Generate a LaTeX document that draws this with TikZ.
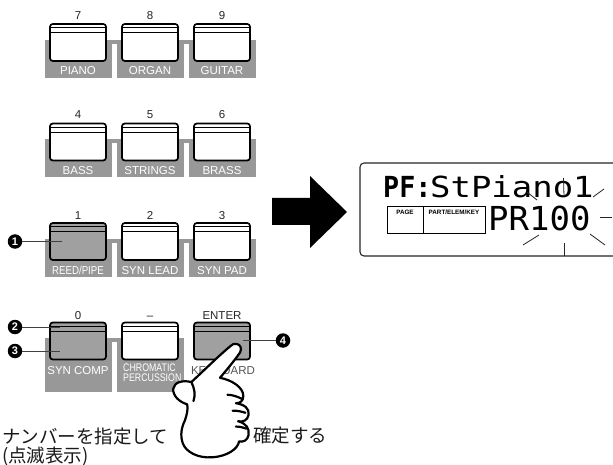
\documentclass[tikz,border=0pt]{standalone}
\usepackage{fontspec}
\setmainfont{Liberation Sans}
\newfontfamily\jpfont{Noto Sans CJK JP}
\newfontfamily\lcdfont{DejaVu Sans Mono}
\usetikzlibrary{calc}

\definecolor{bandgray}{RGB}{152,152,152}
\definecolor{keygray}{RGB}{160,160,160}
\definecolor{inkgray}{RGB}{85,85,85}

% two thin strips under the top edge of a key
\newcommand\keystrips[1]{%
  \draw[line width=0.6pt] ($(#1.north west)+(0.9,4.6)$) -- ($(#1.north east)+(-0.9,4.6)$);
  \draw[line width=0.6pt] ($(#1.north west)+(0.9,9.2)$) -- ($(#1.north east)+(-0.9,9.2)$);
}

\tikzset{
  keybtn/.style={draw=black, line width=1.7pt, rounded corners=2.8pt,
    minimum width=56pt, minimum height=37pt, inner sep=0pt, fill=white},
  litkey/.style={keybtn, fill=keygray},
  keynum/.style={font=\fontsize{11.5}{11.5}\selectfont, text=black!85, inner sep=0pt, anchor=base},
  keylabel/.style={font=\fontsize{11.5}{11.5}\selectfont, text=white, inner sep=0pt, anchor=base},
  callout/.style={circle, fill=black, text=white, font=\bfseries\fontsize{11}{11}\selectfont,
    minimum size=14.5pt, inner sep=0pt},
  leader/.style={draw=black!75, line width=0.8pt},
  lcdframe/.style={draw=black!85, line width=1.1pt, rounded corners=4pt},
  lcdcell/.style={draw=black, line width=1pt},
  tinylabel/.style={font=\bfseries\fontsize{6.3}{6.3}\selectfont, inner sep=0pt, anchor=base},
  ray/.style={draw=black!85, line width=0.8pt},
  handline/.style={draw=black, fill=white, line width=2.2pt, line join=round, line cap=round},
  jptext/.style={font=\jpfont\fontsize{18.5}{18.5}\selectfont, text=black!90, inner sep=0pt, anchor=base west}
}

\begin{document}
\begin{tikzpicture}[x=1pt, y=-1pt]
\useasboundingbox (0,0) rectangle (613,465);
\clip (0,0) rectangle (613,465);
\fill[white] (0,0) rectangle (613,465);

% ---------- label bands ----------
\foreach \yo in {0,99.5,199}{
  \fill[bandgray] (45,\yo+40) rectangle (256,\yo+78);
  \fill[white] (112,\yo+44) rectangle (117,\yo+78);
  \fill[white] (184,\yo+44) rectangle (189,\yo+78);
}
\fill[bandgray] (45,338) rectangle (184,392);
\fill[white] (112,342) rectangle (117,392);

% ---------- row 7 8 9 ----------
\node[keynum] (n7) at (78,19.5) {7};
\node[keynum] (n8) at (150,19.5) {8};
\node[keynum] (n9) at (222,19.5) {9};
\node[keybtn] (k7) at (78,42.5) {};
\node[keybtn] (k8) at (150,42.5) {};
\node[keybtn] (k9) at (222,42.5) {};
\keystrips{k7}\keystrips{k8}\keystrips{k9}
\node[keylabel] (l7) at (78,75) {PIANO};
\node[keylabel] (l8) at (150,75) {ORGAN};
\node[keylabel] (l9) at (222,75) {GUITAR};

% ---------- row 4 5 6 ----------
\node[keynum] (n4) at (78,119) {4};
\node[keynum] (n5) at (150,119) {5};
\node[keynum] (n6) at (222,119) {6};
\node[keybtn] (k4) at (78,142) {};
\node[keybtn] (k5) at (150,142) {};
\node[keybtn] (k6) at (222,142) {};
\keystrips{k4}\keystrips{k5}\keystrips{k6}
\node[keylabel] (l4) at (78,174.5) {BASS};
\node[keylabel] (l5) at (150,174.5) {STRINGS};
\node[keylabel] (l6) at (222,174.5) {BRASS};

% ---------- row 1 2 3 ----------
\node[keynum] (n1) at (78,219.5) {1};
\node[keynum] (n2) at (150,219.5) {2};
\node[keynum] (n3) at (222,219.5) {3};
\node[litkey] (k1) at (78,241.5) {};
\node[keybtn] (k2) at (150,241.5) {};
\node[keybtn] (k3) at (222,241.5) {};
\keystrips{k1}\keystrips{k2}\keystrips{k3}
\node[keylabel] (l1) at (78,274.5) {\scalebox{0.84}[1]{REED/PIPE}};
\node[keylabel] (l2) at (150,274.5) {SYN LEAD};
\node[keylabel] (l3) at (222,274.5) {SYN PAD};

% ---------- row 0 - ENTER ----------
\node[keynum] (n0) at (78,319) {0};
\node[keynum] (ndash) at (150,319) {–};
\node[keynum] (nent) at (222,319) {ENTER};
\node[litkey] (k0) at (78,341) {};
\node[keybtn] (kdash) at (150,341) {};
\node[litkey] (kent) at (222,341) {};
\keystrips{k0}\keystrips{kdash}\keystrips{kent}
\node[keylabel] (l0) at (78,374) {SYN COMP};
\node[keylabel, anchor=base west, font=\fontsize{11}{11}\selectfont] (ldash1) at (123,371.7) {\scalebox{0.8}[1]{CHROMATIC}};
\node[keylabel, anchor=base west, font=\fontsize{11}{11}\selectfont] (ldash2) at (123,381.7) {\scalebox{0.8}[1]{PERCUSSION}};
\node[keylabel, text=inkgray] (lent) at (223,374) {KEYBOARD};

% ---------- callouts ----------
\coordinate (t1) at (62,241.5);
\coordinate (t2) at (60,327);
\coordinate (t3) at (60,351);
\coordinate (t4) at (243,340.5);
\node[callout] (c1) at (15,241.5) {1};
\node[callout] (c2) at (15,327) {2};
\node[callout] (c3) at (15,351) {3};
\node[callout] (c4) at (283,340.5) {4};
\draw[leader] (c1) -- (t1);
\draw[leader] (c2) -- (t2);
\draw[leader] (c3) -- (t3);
\draw[leader] (c4) -- (t4);

% ---------- big arrow ----------
\fill[black] (272,198) -- (310,198) -- (310,176) -- (347,212) -- (310,248) -- (310,225) -- (272,225) -- cycle;

% ---------- LCD display ----------
\draw[lcdframe] (360,163) rectangle (630,256);
\draw[lcdcell] (387,207) rectangle (485,234);
\draw[lcdcell] (423,207) -- (423,234);
\node[tinylabel] (pg) at (405,214.5) {PAGE};
\node[tinylabel] (pek) at (454,214.5) {PART/ELEM/KEY};
\node[inner sep=0pt, anchor=base west, font=\lcdfont\bfseries\fontsize{29}{29}\selectfont] (pf) at (383,198) {\scalebox{0.92}[1]{PF:}};
\node[inner sep=0pt, anchor=base west, font=\lcdfont\fontsize{29}{29}\selectfont] (nm) at (430,198) {\scalebox{1.17}[1]{StPiano1}};
\node[inner sep=0pt, anchor=base west, font=\lcdfont\fontsize{33}{33}\selectfont] (pr) at (488,230) {\scalebox{1.03}[1]{PR100}};
% blinking marks round the number
\draw[ray] (593,197) -- (604,189);
\draw[ray] (600,217) -- (612,217);
\draw[ray] (590,234) -- (605,245);
\draw[ray] (564,243) -- (564,256);
\draw[ray] (539,235) -- (523,245);
\draw[ray] (563.5,178) -- (564,196.5);
\draw[ray] (527,192) -- (537,200);

% ---------- pressing hand ----------
\begin{scope}[shift={(238,346)}, scale=1.06, shift={(-238,-346)}]
\draw[handline] (236,344)
  .. controls (240,344) and (242,348) .. (240,352)
  .. controls (233,362) and (226,370) .. (221,376)
  .. controls (232,378) and (243,385) .. (243,393)
  .. controls (243,398) and (240,400) .. (236,400)
  .. controls (244,401) and (249,405) .. (248,411)
  .. controls (247,416) and (243,418) .. (238,417)
  .. controls (246,419) and (249,424) .. (248,430)
  .. controls (247,435) and (243,437) .. (239,436)
  .. controls (238,443) and (228,450) .. (214,451)
  .. controls (200,452) and (189,446) .. (186,438)
  .. controls (183,430) and (185,422) .. (188,416)
  .. controls (190,410) and (191,405) .. (190,401)
  .. controls (183,399) and (176,393) .. (177,386)
  .. controls (178,380) and (186,378) .. (194,380)
  .. controls (205,370) and (220,355) .. (231,346)
  .. controls (233,344) and (234,344) .. (236,344) -- cycle;
\draw[handline, fill=none] (228,392) .. controls (233,392) and (238,394) .. (242,396);
\draw[handline, fill=none] (233,407) .. controls (238,407) and (242,408) .. (245,409);
\draw[handline, fill=none] (236,422) .. controls (240,422) and (243,423) .. (246,424);
\draw[handline, fill=none] (194,380) .. controls (197,386) and (198,392) .. (196,398);
\end{scope}

% ---------- captions ----------
\node[jptext] (cap1) at (2,443.5) {ナンバーを指定して};
\node[jptext] (cap2) at (2,462.5) {(点滅表示)};
\node[jptext] (cap3) at (253,442.5) {確定する};
\end{tikzpicture}
\end{document}
